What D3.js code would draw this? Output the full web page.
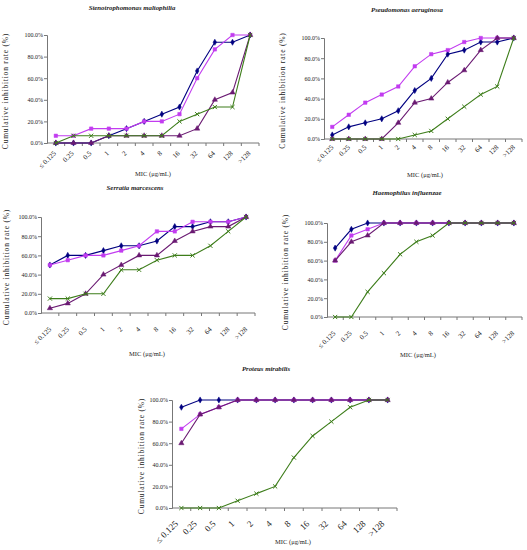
<!DOCTYPE html>
<html>
<head>
<meta charset="utf-8">
<script src="https://cdn.jsdelivr.net/npm/d3@7"></script>
<style>
  body { margin: 0; background: #fff; }
  text { font-family: 'Liberation Serif', serif; fill: #222; }
</style>
</head>
<body>
<script>
let w = 527;
let h = 550;

let categories = ['≤ 0.125', '0.25', '0.5', '1', '2', '4', '8', '16', '32', '64', '128', '>128'];
let yTicks = [0, 20, 40, 60, 80, 100];

// Stenotrophomonas maltophilia
let stenoNavy = [0, 0, 0, 6.7, 13.3, 20, 26.7, 33.3, 66.7, 93.3, 93.3, 100];
let stenoPink = [6.7, 6.7, 13.3, 13.3, 13.3, 20, 20, 26.7, 60, 86.7, 100, 100];
let stenoPurple = [0, 0, 0, 6.7, 6.7, 6.7, 6.7, 6.7, 13.3, 40, 46.7, 100];
let stenoGreen = [0, 6.7, 6.7, 6.7, 6.7, 6.7, 6.7, 20, 26.7, 33.3, 33.3, 100];

// Pseudomonas aeruginosa
let pseudoNavy = [4, 12, 16, 20, 28, 48, 60, 84, 88, 96, 96, 100];
let pseudoPink = [12, 24, 36, 44, 52, 72, 84, 88, 96, 100, 100, 100];
let pseudoPurple = [0, 0, 0, 0, 16, 36, 40, 56, 68, 88, 100, 100];
let pseudoGreen = [0, 0, 0, 0, 0, 4, 8, 20, 32, 44, 52, 100];

// Serratia marcescens
let serraNavy = [50, 60, 60, 65, 70, 70, 75, 90, 90, 95, 95, 100];
let serraPink = [50, 55, 60, 60, 65, 70, 85, 85, 95, 95, 95, 100];
let serraPurple = [5, 10, 20, 40, 50, 60, 60, 75, 85, 90, 90, 100];
let serraGreen = [15, 15, 20, 20, 45, 45, 55, 60, 60, 70, 85, 100];

// Haemophilus influenzae
let haemoNavy = [73.3, 93.3, 100, 100, 100, 100, 100, 100, 100, 100, 100, 100];
let haemoPink = [60, 86.7, 93.3, 100, 100, 100, 100, 100, 100, 100, 100, 100];
let haemoPurple = [60, 80, 86.7, 100, 100, 100, 100, 100, 100, 100, 100, 100];
let haemoGreen = [0, 0, 26.7, 46.7, 66.7, 80, 86.7, 100, 100, 100, 100, 100];

// Proteus mirabilis
let proteusNavy = [93.3, 100, 100, 100, 100, 100, 100, 100, 100, 100, 100, 100];
let proteusPink = [73.3, 86.7, 93.3, 100, 100, 100, 100, 100, 100, 100, 100, 100];
let proteusPurple = [60, 86.7, 93.3, 100, 100, 100, 100, 100, 100, 100, 100, 100];
let proteusGreen = [0, 0, 0, 6.7, 13.3, 20, 46.7, 66.7, 80, 93.3, 100, 100];

let styles = [
  { color: '#000080', symbol: d3.symbolDiamond, size: 11, fill: true },
  { color: '#c23cf0', symbol: d3.symbolSquare, size: 12, fill: true },
  { color: '#6a1a72', symbol: d3.symbolTriangle, size: 12, fill: true },
  { color: '#3d7d1a', symbol: d3.symbolX, size: 13, fill: false }
];

let panels = [
  { title: 'Stenotrophomonas maltophilia', series: [stenoNavy, stenoPink, stenoPurple, stenoGreen],
    x0: 47, x1: 259, top: 35, bottom: 143, titleX: 132, titleY: 10, yTitleX: 8, micX: 153, micY: 176,
    labelDx: -1, labelDy: 9, labelSize: 7 },
  { title: 'Pseudomonas aeruginosa', series: [pseudoNavy, pseudoPink, pseudoPurple, pseudoGreen],
    x0: 324, x1: 522, top: 38, bottom: 139, titleX: 407, titleY: 12, yTitleX: 285, micX: 425, micY: 177,
    labelDx: 0, labelDy: 7, labelSize: 7 },
  { title: 'Serratia marcescens', series: [serraNavy, serraPink, serraPurple, serraGreen],
    x0: 41, x1: 255, top: 217, bottom: 313, titleX: 135, titleY: 190, yTitleX: 9, micX: 147, micY: 356,
    labelDx: 0, labelDy: 15, labelSize: 7 },
  { title: 'Haemophilus influenzae', series: [haemoNavy, haemoPink, haemoPurple, haemoGreen],
    x0: 327, x1: 522, top: 223, bottom: 317, titleX: 407, titleY: 195, yTitleX: 288, micX: 418, micY: 357,
    labelDx: -1, labelDy: 15, labelSize: 7 },
  { title: 'Proteus mirabilis', series: [proteusNavy, proteusPink, proteusPurple, proteusGreen],
    x0: 172, x1: 397, top: 400, bottom: 508, titleX: 266, titleY: 371, yTitleX: 144, micX: 293, micY: 544,
    labelDx: -5, labelDy: 14, labelSize: 9 }
];

let svg = d3.select('body')
  .append('svg')
  .attr('width', w)
  .attr('height', h);

panels.forEach((p) => {
  let g = svg.append('g');

  let xScale = d3.scalePoint()
    .domain(categories)
    .range([p.x0, p.x1])
    .padding(0.5);
  let yScale = d3.scaleLinear()
    .domain([0, 100])
    .range([p.bottom, p.top]);
  let step = xScale.step();

  // y axis
  let yAxis = d3.axisLeft(yScale)
    .tickValues(yTicks)
    .tickSize(3)
    .tickFormat((d) => { return d.toFixed(1) + '%'; });
  let ya = g.append('g')
    .attr('transform', 'translate(' + p.x0 + ',0)')
    .call(yAxis);
  ya.select('.domain').attr('stroke', '#777');
  ya.selectAll('.tick line').attr('stroke', '#777');
  ya.selectAll('.tick text')
    .attr('x', -4)
    .attr('font-size', '6px')
    .attr('font-family', 'Liberation Serif')
    .attr('fill', '#222');

  // x axis, ticks between the categories
  g.append('line')
    .attr('x1', p.x0).attr('x2', p.x1)
    .attr('y1', p.bottom).attr('y2', p.bottom)
    .attr('stroke', '#777');
  g.selectAll('.xtick')
    .data(categories)
    .enter()
    .append('line')
    .attr('x1', (d) => { return xScale(d) + step / 2; })
    .attr('x2', (d) => { return xScale(d) + step / 2; })
    .attr('y1', p.bottom)
    .attr('y2', p.bottom + 3)
    .attr('stroke', '#777');
  g.selectAll('.xlabel')
    .data(categories)
    .enter()
    .append('text')
    .text((d) => { return d; })
    .attr('text-anchor', 'end')
    .attr('dy', '0.35em')
    .attr('font-size', p.labelSize + 'px')
    .attr('transform', (d) => {
      return 'translate(' + (xScale(d) + p.labelDx) + ',' + (p.bottom + p.labelDy) + ') rotate(-45)';
    });

  // series, drawn in order so green sits on top
  p.series.forEach((values, i) => {
    let st = styles[i];
    let line = d3.line()
      .x((d, j) => { return xScale(categories[j]); })
      .y((d) => { return yScale(d); });
    g.append('path')
      .datum(values)
      .attr('d', line)
      .attr('fill', 'none')
      .attr('stroke', st.color)
      .attr('stroke-width', 1.1);
    g.selectAll('.m' + i)
      .data(values)
      .enter()
      .append('path')
      .attr('d', d3.symbol().type(st.symbol).size(st.size))
      .attr('transform', (d, j) => {
        return 'translate(' + xScale(categories[j]) + ',' + yScale(d) + ')';
      })
      .attr('fill', st.fill ? st.color : 'none')
      .attr('stroke', st.color)
      .attr('stroke-width', st.fill ? 0.5 : 1);
  });

  // titles
  g.append('text')
    .text(p.title)
    .attr('x', p.titleX)
    .attr('y', p.titleY)
    .attr('text-anchor', 'middle')
    .attr('font-size', '6.8px')
    .attr('font-weight', 'bold')
    .attr('font-style', 'italic');
  g.append('text')
    .text('MIC (μg/mL)')
    .attr('x', p.micX)
    .attr('y', p.micY)
    .attr('text-anchor', 'middle')
    .attr('font-size', '6.5px');
  g.append('text')
    .text('Cumulative inhibition rate (%)')
    .attr('transform', 'translate(' + p.yTitleX + ',' + ((p.top + p.bottom) / 2 + 2) + ') rotate(-90)')
    .attr('text-anchor', 'middle')
    .attr('font-size', '7.5px')
    .attr('letter-spacing', '0.8px')
    .attr('fill', '#444');
});
</script>
</body>
</html>
